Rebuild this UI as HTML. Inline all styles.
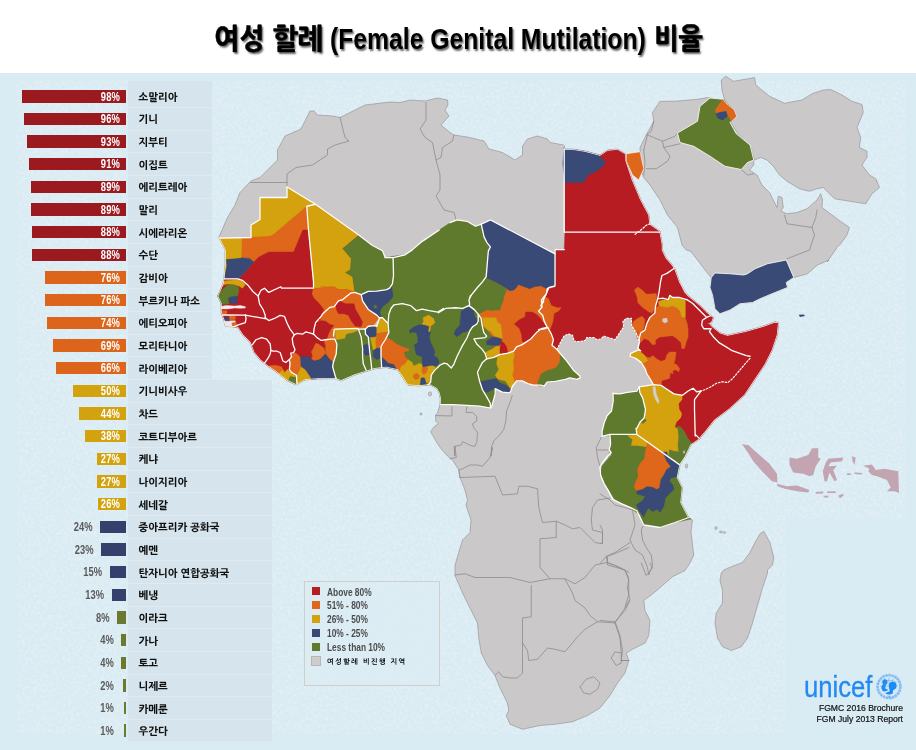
<!DOCTYPE html>
<html lang="ko"><head><meta charset="utf-8"><title>여성 할례 (Female Genital Mutilation) 비율</title>
<style>
*{margin:0;padding:0;box-sizing:border-box}
html,body{width:916px;height:750px;overflow:hidden;background:#fff}
body{position:relative;font-family:"Liberation Sans","NanumGothic","Noto Sans CJK KR",sans-serif}
#stage{position:absolute;left:0;top:0;width:916px;height:750px;overflow:hidden;background:#fff}
#sea{position:absolute;left:0;top:73px;width:916px;height:677px;background:#d9ebf3}
#map{position:absolute;left:0;top:0;width:916px;height:750px}
h1{position:absolute;left:0;top:17px;width:916px;height:44px;font-family:"Liberation Sans","NanumGothic","Noto Sans CJK KR",sans-serif;font-weight:800;font-size:28.5px;line-height:44px;color:#000;white-space:nowrap;text-shadow:1.5px 1.5px 2px rgba(0,0,0,.6)}
h1 span{position:absolute;top:0;display:block;transform-origin:0 50%}
h1 .k1{left:214px;transform:scaleX(.95);-webkit-text-stroke:.45px #000}
h1 .la{left:329.5px;transform:scaleX(.852);font-size:29px}
h1 .k2{left:654px;transform:scaleX(.91);-webkit-text-stroke:.45px #000}
.panel{position:absolute;left:128px;top:81px;width:84px;height:660px;background:#d6e5ed}
.panel2{position:absolute;left:212px;top:379px;width:60px;height:362px;background:#d6e5ed}
.bar{position:absolute;height:12.5px}
.pct{position:absolute;height:16px;line-height:16px;font-size:12px;font-weight:bold;white-space:nowrap;transform:scaleX(.78)}
.pct.in{left:60px;width:60px;text-align:right;color:#fff;transform-origin:100% 50%;letter-spacing:.2px}
.pct.out{left:0;text-align:right;color:#5a5a5a;transform-origin:100% 50%}
.lab{position:absolute;left:138.5px;height:16px;line-height:16px;font-family:"Liberation Sans","NanumGothic","Noto Sans CJK KR",sans-serif;font-weight:800;font-size:10.4px;color:#111;white-space:nowrap;margin-top:1.3px}
.sep{position:absolute;left:128px;width:144px;height:1px;background:rgba(255,255,255,.22)}
.legend{position:absolute;left:304px;top:581px;width:135.5px;height:105px;border:1px solid #cfcfcb;background:rgba(220,236,244,.7)}
.sw{position:absolute;left:7px;width:8.2px;height:8.3px;margin-top:-.9px}
.lt{position:absolute;left:22px;height:13px;line-height:13px;font-size:10.2px;font-weight:bold;color:#4c4c4c;white-space:nowrap;transform:scaleX(.82);transform-origin:0 50%;margin-top:-.3px}
.lk{position:absolute;left:22px;height:10px;line-height:10px;font-family:"Liberation Sans","NanumGothic","Noto Sans CJK KR",sans-serif;font-size:7px;font-weight:bold;color:#000;white-space:nowrap;letter-spacing:1.5px}
.unicef{position:absolute;left:804.3px;top:671px;height:32px;line-height:32px;font-size:29px;color:#2489f3;white-space:nowrap;transform:scaleX(.885);transform-origin:0 50%;-webkit-text-stroke:.3px #2489f3}
.src{position:absolute;right:13px;width:200px;text-align:right;font-size:8.6px;line-height:11px;color:#111;white-space:nowrap;-webkit-text-stroke:.2px #111}
</style></head>
<body><div id="stage">
<div id="sea"></div>
<svg id="tex" style="position:absolute;left:17px;top:81px" width="889" height="653" viewBox="0 0 889 653">
<filter id="paper" x="0" y="0" width="100%" height="100%"><feTurbulence type="fractalNoise" baseFrequency="0.35" numOctaves="3" seed="7" result="n"/><feColorMatrix in="n" type="matrix" values="0 0 0 0 1  0 0 0 0 1  0 0 0 0 1  1.6 0 0 0 -0.62"/></filter>
<filter id="paper2" x="0" y="0" width="100%" height="100%"><feTurbulence type="fractalNoise" baseFrequency="0.5" numOctaves="2" seed="23" result="n"/><feColorMatrix in="n" type="matrix" values="0 0 0 0 0.72  0 0 0 0 0.8  0 0 0 0 0.85  0 1.5 0 0 -0.62"/></filter>
<rect width="889" height="653" fill="#fff" filter="url(#paper)" opacity=".45"/>
<rect width="889" height="653" fill="#fff" filter="url(#paper2)" opacity=".4"/>
</svg>
<div style="position:absolute;left:786px;top:519px;width:120px;height:215px;background:#d9ebf3"></div>
<div class="panel"></div><div class="panel2"></div>
<svg id="map" viewBox="0 0 916 750" width="916" height="750">
<defs><clipPath id="af"><polygon points="310,111 314,111 317.5,115 332.5,116 340,117.5 350,112.5 365,105 390,102 400,102.5 410,100 425,101 437.5,98 447.5,100 448,105 445,110 449,116 441,125 450,132.5 454,135 467.5,137 484,141 489,149 502.5,152.5 515,160 522.5,155 522.5,146 527.5,139 537.5,136 547.5,139 550,142.5 564,145 565,149 572.5,149 585,151 600,155 607.5,150 617.5,149 626,154 626.25,161 632.5,180 641,200 649,215 650,224 660,231 662.5,245 662.5,250 666,257.5 672.5,265 675,268.75 680,282.5 687.5,295 700,305 707.5,312.5 713.75,317.5 711,325 713.75,327.5 720,332.5 727.5,335 745,331.25 762.5,326.25 775,321.75 778.75,322.5 777.5,335 772.5,350 765,365 755,380 745,395 730,408.75 715,420 705,432.5 701,437 700,438.75 691,445 685,457.5 680,465 677.5,477.5 682.5,487.5 681,502.5 688.75,517.5 692.5,520 691,532.5 693.75,555 690,563 685,570.5 672.5,576.75 662.5,585.5 653.75,593 643.75,600.5 645,610.5 650,620.5 648.75,635.5 645,643 632.5,649.25 626.25,653 628.75,660.5 625,673 617.5,683 610,695.5 600,708 587.5,715.5 572.5,721.75 555,724.25 540,725.5 522.5,729.25 510,724.25 506.25,715.5 508.75,710.5 507.5,703 500,688 495,675.5 487.5,665.5 481.25,653 478.75,638 477.5,623 470,608 462.5,593 455,575.5 455,565 458.75,552.5 462.5,540 470,532.5 471,520 466,505 467.5,500 465,490 460,477.5 458.75,470 452.5,460 447.5,456 442.7,450.8 438.4,445.1 434.2,438 430.6,431.6 434.2,426.6 438.4,423.8 435.6,421 435.6,415.3 437.7,412.4 439.9,404.6 440.3,399 439,393 436.5,388.5 430,385 417.5,386 407.5,385 402.5,377.5 397.5,370 386,367.5 375,368.75 365,372 355,375 341,381 335,378.75 317.5,379 305,380 296,385 287.5,381 280,375 275,371 267.5,366 260,360 253.75,352.5 250,342.5 242.5,335 237.5,327.5 225,326 223.75,320 221,312.5 221,303.75 217.5,296 222.5,285 223.75,278.75 225,265 225,250 218.75,237.5 227.5,217.5 235,205 240,192.5 251,181 260,177.5 277.5,160 277.5,150 285,136 301,129"/></clipPath></defs>
<polygon points="310,111 314,111 317.5,115 332.5,116 340,117.5 350,112.5 365,105 390,102 400,102.5 410,100 425,101 437.5,98 447.5,100 448,105 445,110 449,116 441,125 450,132.5 454,135 467.5,137 484,141 489,149 502.5,152.5 515,160 522.5,155 522.5,146 527.5,139 537.5,136 547.5,139 550,142.5 564,145 565,149 572.5,149 585,151 600,155 607.5,150 617.5,149 626,154 626.25,161 632.5,180 641,200 649,215 650,224 660,231 662.5,245 662.5,250 666,257.5 672.5,265 675,268.75 680,282.5 687.5,295 700,305 707.5,312.5 713.75,317.5 711,325 713.75,327.5 720,332.5 727.5,335 745,331.25 762.5,326.25 775,321.75 778.75,322.5 777.5,335 772.5,350 765,365 755,380 745,395 730,408.75 715,420 705,432.5 701,437 700,438.75 691,445 685,457.5 680,465 677.5,477.5 682.5,487.5 681,502.5 688.75,517.5 692.5,520 691,532.5 693.75,555 690,563 685,570.5 672.5,576.75 662.5,585.5 653.75,593 643.75,600.5 645,610.5 650,620.5 648.75,635.5 645,643 632.5,649.25 626.25,653 628.75,660.5 625,673 617.5,683 610,695.5 600,708 587.5,715.5 572.5,721.75 555,724.25 540,725.5 522.5,729.25 510,724.25 506.25,715.5 508.75,710.5 507.5,703 500,688 495,675.5 487.5,665.5 481.25,653 478.75,638 477.5,623 470,608 462.5,593 455,575.5 455,565 458.75,552.5 462.5,540 470,532.5 471,520 466,505 467.5,500 465,490 460,477.5 458.75,470 452.5,460 447.5,456 442.7,450.8 438.4,445.1 434.2,438 430.6,431.6 434.2,426.6 438.4,423.8 435.6,421 435.6,415.3 437.7,412.4 439.9,404.6 440.3,399 439,393 436.5,388.5 430,385 417.5,386 407.5,385 402.5,377.5 397.5,370 386,367.5 375,368.75 365,372 355,375 341,381 335,378.75 317.5,379 305,380 296,385 287.5,381 280,375 275,371 267.5,366 260,360 253.75,352.5 250,342.5 242.5,335 237.5,327.5 225,326 223.75,320 221,312.5 221,303.75 217.5,296 222.5,285 223.75,278.75 225,265 225,250 218.75,237.5 227.5,217.5 235,205 240,192.5 251,181 260,177.5 277.5,160 277.5,150 285,136 301,129" fill="#cbc8c9" stroke="#8f8c8d" stroke-width="0.6" stroke-linejoin="round"/>
<polyline points="466.83,406.77 466.12,412.45 472.51,412.45 476.77,416.7 476.77,420.96 472.51,423.8 473.93,428.06 477.48,432.31 476.77,442.25 474.64,446.51 469.67,445.09 466.83,443.67 462.58,441.54 461.16,445.09 454.06,446.51 454.77,456.02 455,446.25 456.25,457.5 450,458.75" fill="none" stroke="#8f8c8d" stroke-width="0.8" stroke-linejoin="round" stroke-linecap="round" />
<polyline points="512.25,395.41 509.41,403.93 506.57,411.03 505.86,420.96 503.73,429.48 499.48,435.15 493.8,440.83 491.67,446.51 490.96,456.02 492.5,447.5 490,457.5 482.5,466.25 477.5,465 470,465 462.5,468.75 458.75,470 460,477.5" fill="none" stroke="#8f8c8d" stroke-width="0.8" stroke-linejoin="round" stroke-linecap="round" />
<polyline points="460,477.5 495,476.25 502.5,495 517.5,493.75 518.75,486.25 527.5,486.25 537.5,488.75 538.75,507.5 542.5,522.5 556.25,521.25 556.25,537.5 540,538.75 540,567.5 550,578.75" fill="none" stroke="#8f8c8d" stroke-width="0.8" stroke-linejoin="round" stroke-linecap="round" />
<polyline points="455,575 465,573.75 475,577.5 510,577.5 530,582.5 550,578.75 565,578.75 575,583.75 585,577.5 595,565 607.5,562.5 607.5,556.25 617.5,552.5 629,547.5" fill="none" stroke="#8f8c8d" stroke-width="0.8" stroke-linejoin="round" stroke-linecap="round" />
<polyline points="556.25,521.25 565,525 572.5,528.75 580,527.5 587.5,535 595,542.5 602.5,543.75 602.5,532.5 592.5,530 591.25,520 592.5,507.5 597.5,500 610,498" fill="none" stroke="#8f8c8d" stroke-width="0.8" stroke-linejoin="round" stroke-linecap="round" />
<polyline points="607.5,562.5 620,567.5 629,572.5" fill="none" stroke="#8f8c8d" stroke-width="0.8" stroke-linejoin="round" stroke-linecap="round" />
<polyline points="602.5,435 610,436.25 611.25,445 608.75,455 610,463.75 600,466.25 597.5,457.5 596.25,447.5 600,440 602.5,435" fill="none" stroke="#8f8c8d" stroke-width="0.8" stroke-linejoin="round" stroke-linecap="round" />
<polyline points="597.5,450 610,450" fill="none" stroke="#8f8c8d" stroke-width="0.8" stroke-linejoin="round" stroke-linecap="round" />
<polyline points="435.61,415.57 451.93,415.99 451.93,406.77" fill="none" stroke="#8f8c8d" stroke-width="0.8" stroke-linejoin="round" stroke-linecap="round" />
<polyline points="531.25,585.5 531.25,616.75 522.5,618 522.5,673 517.5,678 510,678 502.5,676.75 498.75,671.75 495,675.5" fill="none" stroke="#8f8c8d" stroke-width="0.8" stroke-linejoin="round" stroke-linecap="round" />
<polyline points="522.5,643 527.5,650.5 528.75,660.5 537.5,659.25 547.5,648 555,649.25 565,651.75 572.5,643 577.5,636.75 585,629.25 597.5,621.75 615,623 625,608 629,600.5" fill="none" stroke="#8f8c8d" stroke-width="0.8" stroke-linejoin="round" stroke-linecap="round" />
<polyline points="565,579.25 572.5,593 575,600.5 585,608 590,615.5 597.5,621.75" fill="none" stroke="#8f8c8d" stroke-width="0.8" stroke-linejoin="round" stroke-linecap="round" />
<polyline points="615,623 620,638 621.25,653" fill="none" stroke="#8f8c8d" stroke-width="0.8" stroke-linejoin="round" stroke-linecap="round" />
<polyline points="611.25,658 615,651.75 621.25,653 621.25,663 616.25,665.5 611.25,658" fill="none" stroke="#8f8c8d" stroke-width="0.8" stroke-linejoin="round" stroke-linecap="round" />
<polyline points="580,686.75 586.25,679.25 593.75,676.75 600,683 597.5,689.25 590,694.25 583.75,693 580,686.75" fill="none" stroke="#8f8c8d" stroke-width="0.8" stroke-linejoin="round" stroke-linecap="round" />
<polyline points="621.25,660.5 629,660.5" fill="none" stroke="#8f8c8d" stroke-width="0.8" stroke-linejoin="round" stroke-linecap="round" />
<polyline points="600,493.75 610,500 615,505 625,507.5 632.5,510 635,525 630,540 635,550 642.5,555 647.5,567.5 648.75,575 652.5,565 651.25,555 646.25,547.5 642.5,540 641.25,530 643.75,525" fill="none" stroke="#8f8c8d" stroke-width="0.8" stroke-linejoin="round" stroke-linecap="round" />
<polyline points="630,542.5 615,552.5 606.25,556.25 607.5,565 625,570 628.75,580 628.75,595 625,607" fill="none" stroke="#8f8c8d" stroke-width="0.8" stroke-linejoin="round" stroke-linecap="round" />
<polyline points="606.25,556.25 600,563.75" fill="none" stroke="#8f8c8d" stroke-width="0.8" stroke-linejoin="round" stroke-linecap="round" />
<polyline points="600,525 602.5,530 602.5,542.5 600,543.75" fill="none" stroke="#8f8c8d" stroke-width="0.8" stroke-linejoin="round" stroke-linecap="round" />
<polyline points="607.5,563 615,565.5 625,570.5 628.75,578 627.5,588 630,600.5 625,610.5 615,621.75 600,620.5" fill="none" stroke="#8f8c8d" stroke-width="0.8" stroke-linejoin="round" stroke-linecap="round" />
<polyline points="615,621.75 620,635.5 622.5,650.5 621.25,660.5 628.75,660.5" fill="none" stroke="#8f8c8d" stroke-width="0.8" stroke-linejoin="round" stroke-linecap="round" />
<polyline points="641.25,563 646.25,575.5 652.5,568 650,563" fill="none" stroke="#8f8c8d" stroke-width="0.8" stroke-linejoin="round" stroke-linecap="round" />
<polyline points="340,117.5 345,137.5 349,141 335,145 327.5,149 327.5,155 312.5,165 296,167.5 287,174 287,187" fill="none" stroke="#8f8c8d" stroke-width="0.8" stroke-linejoin="round" stroke-linecap="round" />
<polyline points="251,182.5 287,182.5" fill="none" stroke="#8f8c8d" stroke-width="0.8" stroke-linejoin="round" stroke-linecap="round" />
<polyline points="426,102.5 426,120 420,129 425,137.5 432.5,142.5 436,160" fill="none" stroke="#8f8c8d" stroke-width="0.8" stroke-linejoin="round" stroke-linecap="round" />
<polyline points="454,135 452.5,141 442.5,147.5 441,157.5 436,160 440,175 440,190 436,196 444,210 454,212.5 456,219.5" fill="none" stroke="#8f8c8d" stroke-width="0.8" stroke-linejoin="round" stroke-linecap="round" />
<polyline points="643.75,150 647.5,135 653.75,137.5 662.5,141.25 675,136.25 677.5,133" fill="none" stroke="#8f8c8d" stroke-width="0.8" stroke-linejoin="round" stroke-linecap="round" />
<polyline points="662.5,141.25 663.75,147.5 680,143.75" fill="none" stroke="#8f8c8d" stroke-width="0.8" stroke-linejoin="round" stroke-linecap="round" />
<polyline points="663.75,147.5 670,156.25 667.5,161.25 656.25,168.75 646.25,168.75" fill="none" stroke="#8f8c8d" stroke-width="0.8" stroke-linejoin="round" stroke-linecap="round" />
<polyline points="646.25,135 651.25,131.25 653.75,121.25" fill="none" stroke="#8f8c8d" stroke-width="0.8" stroke-linejoin="round" stroke-linecap="round" />
<polyline points="643.75,150 645,162.5 643.75,175" fill="none" stroke="#8f8c8d" stroke-width="0.8" stroke-linejoin="round" stroke-linecap="round" />
<polyline points="741.25,169.5 747.5,175 753.75,173.75" fill="none" stroke="#8f8c8d" stroke-width="0.8" stroke-linejoin="round" stroke-linecap="round" />
<polyline points="784.5,215 787,223.75 812,227.5 815.75,217.5 817,210" fill="none" stroke="#8f8c8d" stroke-width="0.8" stroke-linejoin="round" stroke-linecap="round" />
<polyline points="812,227.5 814.5,235 809.5,250 787,258.75" fill="none" stroke="#8f8c8d" stroke-width="0.8" stroke-linejoin="round" stroke-linecap="round" />
<g clip-path="url(#af)">
<polygon points="218,238.5 251,237.5 251,225 260,219.5 260,197.5 287,197.5 287,187 315.5,204.25 306.75,206.25 308.5,230 313.5,281.8 313.5,288.2 281.54,288.19 280.83,286.77 268.77,292.45 264.51,288.19 260.96,290.32 258.12,295.99 253.16,291.74 247.48,284.64 242.51,280.38 237.55,278.96 224.06,278.96 220.52,272.58 221.93,258.38 217.68,238.52" fill="#d4a20e" stroke="#d4a20e" stroke-width="0.4" stroke-linejoin="round"/>
<polygon points="241.8,239.22 251.74,237.1 257.41,237.81 271.61,236.39 278.7,230 306.75,206.25 308.51,230 302.83,230 293.6,252 268.77,252 258.83,256.97 253.87,261.93 249.61,258.38 241.09,257.67" fill="#de671c" stroke="#de671c" stroke-width="0.4" stroke-linejoin="round"/>
<polygon points="251.25,237.5 270,236.25 282.5,230 306.25,212 306.75,206.25 310,230 287.5,250 262.5,250 242.5,250 241.25,238.75" fill="#de671c" stroke="#de671c" stroke-width="0.4" stroke-linejoin="round"/>
<polygon points="302.83,230 308.51,230 313.47,281.8 313.47,288.19 281.54,288.19 280.83,286.77 268.77,292.45 264.51,288.19 260.96,290.32 258.12,295.99 253.16,291.74 247.48,284.64 242.51,280.38 238.97,278.25 244.64,272.58 253.87,261.93 258.83,256.97 268.77,252 293.6,252" fill="#b71c23" stroke="#b71c23" stroke-width="0.4" stroke-linejoin="round"/>
<polygon points="226.19,259.09 241.09,257.67 249.61,258.38 253.87,261.93 244.64,272.58 238.97,278.25 224.06,278.96 225.48,272.58 226.9,265.48" fill="#3a4a77" stroke="#3a4a77" stroke-width="0.4" stroke-linejoin="round"/>
<polygon points="219.81,239.22 241.8,239.22 241.09,257.67 226.19,259.09 224.06,255.55 224.77,248.45 222.64,244.19" fill="#d4a20e" stroke="#d4a20e" stroke-width="0.4" stroke-linejoin="round"/>
<polygon points="306.75,206.25 315.5,204.25 358.75,235 372.5,245.5 376.77,247.74 382.45,250.58 385.28,257.67 393.09,257.67 393.52,275.41 392.38,283.93 389.54,288.19 386.7,289.61 376.77,291.03 368.25,291.31 361.16,294.57 354.77,292.45 350.51,293.16 342.71,299.54 338.45,300.96 334.19,306.64 329.93,307.35 322.84,313.73 320,317.99 321.28,316.57 317.02,320.83 314.18,326.51 313.47,335.02 313.47,334.06 311.34,333.35 305.67,331.93 302.83,334.06 297.15,333.35 294.31,334.77 290.06,329.09 287.22,323.42 284.38,316.32 280.12,315.33 274.45,318.45 268.77,320.58 265.22,317.74 265.22,315.15 263.09,309.48 259.54,303.8 258.12,295.99 260.96,290.32 264.51,288.19 268.77,292.45 280.83,286.77 281.54,288.19 313.47,288.19 313.47,281.8 308.51,230" fill="#b71c23" stroke="#b71c23" stroke-width="0.4" stroke-linejoin="round"/>
<polygon points="306.75,206.25 315.5,204.25 358.75,235 358.32,235.68 342.71,248.45 351.22,258.38 350.51,269.74 345.55,272.58 352.64,276.83 354.77,291.74 346.97,289.61 338.45,289.61 334.19,286.77 325.68,288.19 320,286.77 332.63,286.77 325.54,288.19 314.18,288.19 313.47,281.8 308.51,230" fill="#d4a20e" stroke="#d4a20e" stroke-width="0.4" stroke-linejoin="round"/>
<polygon points="358.75,235 372.5,245.5 376.77,247.74 382.45,250.58 385.28,257.67 393.09,257.67 393.52,275.41 392.38,283.93 389.54,288.19 386.7,289.61 376.77,291.03 368.25,291.31 361.16,294.57 354.77,292.45 354.77,291.74 352.64,276.83 345.55,272.58 350.51,269.74 351.22,258.38 342.71,248.45 358.32,235.68" fill="#5f792d" stroke="#5f792d" stroke-width="0.4" stroke-linejoin="round"/>
<polygon points="313.47,288.19 314.18,288.19 325.54,288.19 332.63,286.77 320,286.77 325.68,288.19 334.19,286.77 338.45,289.61 346.97,289.61 354.77,291.74 354.77,292.45 350.51,293.16 342.71,299.54 338.45,300.96 334.19,306.64 329.93,307.35 322.84,313.73 320,317.99 321.28,316.57 324.12,309.48 319.86,303.8 314.18,298.12 312.05,293.86" fill="#de671c" stroke="#de671c" stroke-width="0.4" stroke-linejoin="round"/>
<polygon points="224.06,278.96 237.55,278.96 242.51,280.38 247.48,284.64 253.16,291.74 258.12,295.99 259.54,303.8 263.09,309.48 265.22,315.15 265.22,318.7 245.35,315.15 226.19,314.87 217.68,315.15 214.84,306.64 216.26,295.28 220.52,283.93" fill="#b71c23" stroke="#b71c23" stroke-width="0.4" stroke-linejoin="round"/>
<polygon points="220.52,281.8 227.61,280.38 237.55,279.67 242.51,281.09 245.35,284.64 242.51,288.19 238.97,286.06 233.29,284.64 227.61,283.93 221.93,285.35" fill="#d4a20e" stroke="#d4a20e" stroke-width="0.4" stroke-linejoin="round"/>
<polygon points="214.84,295.28 222.64,289.61 227.61,284.64 233.29,284.64 238.26,286.77 238.97,291.03 237.55,295.99 230.45,297.41 228.32,300.96 229.74,303.8 223.35,304.51 216.26,300.96" fill="#5f792d" stroke="#5f792d" stroke-width="0.4" stroke-linejoin="round"/>
<polygon points="228.32,298.12 231.87,296.7 237.55,296.7 237.55,302.38 233.29,303.8 229.74,303.09" fill="#3a4a77" stroke="#3a4a77" stroke-width="0.4" stroke-linejoin="round"/>
<polygon points="219.1,306.64 226.19,305.5 234.71,306.07 240.38,305.5 245.35,306.64 245.35,308.06 240.38,308.34 234.71,308.06 227.61,308.91 219.1,308.91" fill="#f3f0f0" stroke="#f3f0f0" stroke-width="0.4" stroke-linejoin="round"/>
<polygon points="219.1,310.9 226.9,310.61 226.9,315.58 219.1,316" fill="#de671c" stroke="#de671c" stroke-width="0.4" stroke-linejoin="round"/>
<polygon points="220.52,316 226.19,314.87 245.35,315.15 246.06,320.83 245.35,322.96 238.26,325.8 234.71,329.34 229.03,329.34 221.93,326.51 220.52,320.83" fill="#b71c23" stroke="#b71c23" stroke-width="0.4" stroke-linejoin="round"/>
<polygon points="220.52,320.83 235.42,320.83 234.71,329.34 221.93,329.34" fill="#ece6e6" stroke="#ece6e6" stroke-width="0.4" stroke-linejoin="round"/>
<polygon points="229.03,315.15 235.42,315.15 235.42,319.41 229.03,320.12" fill="#de671c" stroke="#de671c" stroke-width="0.4" stroke-linejoin="round"/>
<polygon points="224.49,317.28 229.03,316.86 229.31,320.83 225.06,320.83" fill="#3a4a77" stroke="#3a4a77" stroke-width="0.4" stroke-linejoin="round"/>
<polygon points="231.87,322.96 236.13,322.25 236.84,326.51 232.58,327.22" fill="#de671c" stroke="#de671c" stroke-width="0.4" stroke-linejoin="round"/>
<polygon points="226.19,314.19 245.35,314.9 265.22,317.74 268.77,320.58 274.45,318.45 280.12,315.33 284.38,316.32 287.22,323.42 290.06,329.09 294.31,334.77 292.19,338.32 292.9,344 295.02,349.67 293.6,352.51 290.77,353.22 291.48,356.77 289.35,359.61 285.8,362.45 282.96,361.03 281.54,356.77 280.12,352.51 276.57,351.09 273.03,351.09 270.9,350.38 270.19,344 266.64,339.03 261.67,337.61 256,339.74 252.45,344.71 247.48,342.58 240.38,336.9 234.71,331.22 231.87,327.67 238.26,324.84 245.35,322.71 246.06,318.45" fill="#b71c23" stroke="#b71c23" stroke-width="0.4" stroke-linejoin="round"/>
<polygon points="252.45,344.71 256,339.74 261.67,337.61 266.64,339.03 270.19,344 270.9,350.38 270.19,353.93 268.06,358.19 264.51,363.16 258.83,362.45 253.16,356.77 249.61,348.25" fill="#b71c23" stroke="#b71c23" stroke-width="0.4" stroke-linejoin="round"/>
<polygon points="264.51,363.16 268.06,358.19 270.19,353.93 270.9,350.38 273.03,351.09 276.57,351.09 280.12,352.51 281.54,356.77 282.96,361.03 285.8,362.45 289.35,359.61 290.06,363.86 289.35,369.54 291.48,372.38 296.44,375.22 297.15,387.99 288.64,385.15 280.12,379.48 271.61,370.96 264.51,365.99" fill="#b71c23" stroke="#b71c23" stroke-width="0.4" stroke-linejoin="round"/>
<polygon points="268.06,366.7 270.19,365.57 275.86,365.28 281.54,366.7 282.96,369.54 278.7,373.8 276.57,375.22 268.77,369.54" fill="#de671c" stroke="#de671c" stroke-width="0.4" stroke-linejoin="round"/>
<polygon points="278.7,373.8 282.96,369.54 284.38,372.38 287.22,369.54 291.48,372.38 296.44,375.22 296.44,377.35 290.06,376.64 287.93,383.73 280.12,379.48" fill="#d4a20e" stroke="#d4a20e" stroke-width="0.4" stroke-linejoin="round"/>
<polygon points="290.06,376.64 296.44,377.35 296.87,387.99 287.22,383.73" fill="#5f792d" stroke="#5f792d" stroke-width="0.4" stroke-linejoin="round"/>
<polygon points="294.31,334.77 297.15,333.35 302.83,334.06 305.67,331.93 311.34,333.35 313.47,334.06 317.02,337.61 321.28,340.45 325.54,339.74 331.21,339.03 334.76,339.03 336.89,344 336.18,353.93 333.34,362.45 332.63,366.7 335.47,376.64 337.6,382.31 325.54,380.9 311.34,382.31 302.83,385.15 297.15,387.99 296.44,375.22 291.48,372.38 289.35,369.54 290.06,363.86 289.35,359.61 291.48,356.77 290.77,353.22 293.6,352.51 295.02,349.67 292.9,344 292.19,338.32" fill="#b71c23" stroke="#b71c23" stroke-width="0.4" stroke-linejoin="round"/>
<polygon points="311.34,351.8 313.47,348.25 315.6,343.29 318.44,344 324.12,348.25 325.54,353.93 322.7,356.77 319.86,359.61 314.18,361.03 311.34,358.9 312.76,356.06" fill="#de671c" stroke="#de671c" stroke-width="0.4" stroke-linejoin="round"/>
<polygon points="324.12,341.16 325.54,339.74 331.21,339.03 334.76,339.03 336.89,344 336.18,353.93 333.34,362.45 329.79,359.61 326.96,356.06 325.54,353.93 325.54,345.41" fill="#de671c" stroke="#de671c" stroke-width="0.4" stroke-linejoin="round"/>
<polygon points="299.99,356.77 308.51,356.77 311.34,358.9 314.18,361.03 319.86,359.61 322.7,356.77 325.54,353.93 326.96,356.06 329.79,359.61 333.34,362.45 332.63,366.7 335.47,379.48 325.54,380.9 312.05,381.6 309.93,376.64 307.09,372.38 304.96,369.54 300.7,366.7" fill="#3a4a77" stroke="#3a4a77" stroke-width="0.4" stroke-linejoin="round"/>
<polygon points="291.48,356.77 293.6,352.51 297.15,353.93 299.99,356.77 300.7,366.7 299.99,369.54 297.86,373.8 296.44,375.22 291.48,372.38 289.35,369.54 290.06,363.86 289.35,359.61" fill="#de671c" stroke="#de671c" stroke-width="0.4" stroke-linejoin="round"/>
<polygon points="296.44,375.22 297.86,373.8 299.99,369.54 300.7,366.7 304.96,369.54 307.09,372.38 309.93,376.64 312.05,381.6 302.83,385.15 297.15,387.99" fill="#d4a20e" stroke="#d4a20e" stroke-width="0.4" stroke-linejoin="round"/>
<polygon points="320,317.99 322.84,313.73 329.93,307.35 334.19,306.64 338.45,300.96 342.71,299.54 350.51,293.16 354.77,292.45 361.16,294.57 362.58,300.96 368.25,309.48 376.77,315.15 379.61,317.99 376.77,320.83 373.93,325.09 366.83,327.93 358.32,328.64 334.19,329.34 334.76,339.03 331.21,339.03 325.54,339.74 321.28,340.45 317.02,337.61 313.47,334.06 314.18,328.38 315.6,322.71 317.02,320.83 321.28,316.57" fill="#de671c" stroke="#de671c" stroke-width="0.4" stroke-linejoin="round"/>
<polygon points="335.61,303.8 339.87,300.96 345.55,303.8 354.06,303.8 355.48,309.48 359.74,316.57 362.58,322.25 361.16,326.51 355.48,326.51 351.22,320.83 348.38,315.15 344.13,313.73 338.45,313.73 336.32,309.48" fill="#b71c23" stroke="#b71c23" stroke-width="0.4" stroke-linejoin="round"/>
<polygon points="313.47,334.06 314.18,328.38 315.6,322.71 321.28,320.58 325.54,321.29 329.79,324.13 334.05,325.55 331.21,328.38 328.38,334.06 326.96,338.32 321.28,340.45 317.02,337.61" fill="#b71c23" stroke="#b71c23" stroke-width="0.4" stroke-linejoin="round"/>
<polygon points="317.87,309.48 320,313.73 321.42,317.99 319.29,320.83 316.45,315.15" fill="#b71c23" stroke="#b71c23" stroke-width="0.4" stroke-linejoin="round"/>
<polygon points="334.9,329.09 356.9,328.38 358.32,329.09 361.16,336.9 361.87,342.58 362.58,348.25 362.58,356.77 363.29,363.86 366.12,369.54 366.83,372.38 356.9,378.06 348.38,381.6 341.29,383.73 335.61,380.9 332.77,366.7 333.48,362.45 336.32,353.93 337.03,346.83 335.61,338.32" fill="#5f792d" stroke="#5f792d" stroke-width="0.4" stroke-linejoin="round"/>
<polygon points="334.9,329.09 356.9,328.38 357.61,330.51 352.64,332.64 348.38,333.35 345.55,334.77 344.84,338.32 336.32,339.74" fill="#d4a20e" stroke="#d4a20e" stroke-width="0.4" stroke-linejoin="round"/>
<polygon points="358.32,329.09 364,329.09 365.41,334.06 368.25,336.9 368.96,344 369.67,351.09 370.38,356.77 371.09,362.45 371.8,370.96 366.83,371.67 363.29,363.86 362.58,356.77 362.58,348.25 361.87,342.58 361.16,336.9" fill="#5f792d" stroke="#5f792d" stroke-width="0.4" stroke-linejoin="round"/>
<polygon points="363.29,345.41 366.83,344 369.67,346.83 370.38,354.64 365.41,355.35 363.29,352.51" fill="#3a4a77" stroke="#3a4a77" stroke-width="0.4" stroke-linejoin="round"/>
<polygon points="365.41,329.09 368.25,326.26 374.64,325.55 376.77,326.26 379.61,317.74 382.45,317.74 388.12,323.42 388.83,332.64 385.28,339.74 382.45,344 381.03,346.83 381.03,356.77 381.74,369.54 371.8,370.96 371.09,362.45 370.38,356.77 369.67,351.09 368.96,344 368.25,336.9 365.41,334.06" fill="#5f792d" stroke="#5f792d" stroke-width="0.4" stroke-linejoin="round"/>
<polygon points="365.41,329.8 368.25,326.26 374.64,325.55 376.77,328.38 376.77,335.48 372.51,337.61 368.25,336.9 365.41,334.06" fill="#3a4a77" stroke="#3a4a77" stroke-width="0.4" stroke-linejoin="round"/>
<polygon points="376.77,326.26 379.61,317.74 382.45,317.74 388.12,323.42 388.83,331.93 376.77,333.35" fill="#d4a20e" stroke="#d4a20e" stroke-width="0.4" stroke-linejoin="round"/>
<polygon points="376.77,333.35 388.83,331.93 385.28,339.74 382.45,344 381.03,348.25 376.06,348.25 375.35,341.16 376.06,336.9" fill="#de671c" stroke="#de671c" stroke-width="0.4" stroke-linejoin="round"/>
<polygon points="370.38,337.61 376.06,337.18 375.35,341.16 376.06,348.25 376.77,350.38 373.22,350.38 371.8,344" fill="#d4a20e" stroke="#d4a20e" stroke-width="0.4" stroke-linejoin="round"/>
<polygon points="373.22,350.38 376.77,348.25 380.32,348.25 380.32,358.19 376.77,359.61 373.22,356.77" fill="#3a4a77" stroke="#3a4a77" stroke-width="0.4" stroke-linejoin="round"/>
<polygon points="385.28,257.67 393.09,256.26 405.15,254.84 412.25,249.87 422.18,241.35 439.21,230 450,222.7 457,219.9 467,221.3 475.5,226.3 481.2,224.1 492,245 492,290 474.64,290 470.38,295.68 468.96,299.93 469.67,304.19 468.96,305.61 462.58,308.45 455.48,307.74 445.55,308.45 438.45,312.71 432.77,311.29 427.1,309.16 420,308.45 443.47,308.52 437.79,312.06 429.28,310.64 422.18,309.22 416.51,310.64 410.83,305.68 402.31,303.55 393.8,304.97 390.96,308.52 388.83,314.19 388.12,322.71 382.45,317.74 379.61,317.74 379.61,317.99 376.77,315.15 368.25,309.48 362.58,300.96 361.16,294.57 368.25,291.31 376.77,291.03 386.7,289.61 389.54,288.19 392.38,283.93 393.52,275.41 393.09,257.67" fill="#5f792d" stroke="#5f792d" stroke-width="0.4" stroke-linejoin="round"/>
<polygon points="361.16,294.57 368.25,291.31 376.77,291.03 386.7,289.61 389.54,288.19 391.67,286.77 393.09,296.7 388.12,302.38 382.45,306.64 379.61,312.31 381.03,316.57 379.61,317.99 376.77,315.15 368.25,309.48 362.58,300.96" fill="#3a4a77" stroke="#3a4a77" stroke-width="0.4" stroke-linejoin="round"/>
<polygon points="373.93,305.22 376.77,305.22 376.77,308.06 373.93,308.06" fill="#5f792d" stroke="#5f792d" stroke-width="0.4" stroke-linejoin="round"/>
<polygon points="388.12,322.71 388.83,314.19 390.96,308.52 393.8,304.97 402.31,303.55 410.83,305.68 416.51,310.64 422.18,309.22 429.28,310.64 437.79,312.06 443.47,308.52 438.45,312.71 445.55,308.45 455.48,307.74 462.58,308.45 468.96,305.61 474.64,309.87 478.19,314.13 478.19,321.22 476.77,324.06 472.51,326.9 469.67,331.16 466.83,338.25 462.58,345.35 459.74,351.03 456.9,356.7 454.06,363.8 451.22,368.06 446.97,363.8 444.13,363.09 439.87,365.22 434.19,370.9 431.35,375.15 430.64,382.25 427.1,386.51 426.44,386.57 416.51,387.28 407.99,387.28 402.31,383.73 399.48,376.64 396.64,370.96 393.8,369.54 381.74,369.54 381.03,356.77 381.03,346.83 382.45,344 385.28,339.74 388.83,332.64" fill="#5f792d" stroke="#5f792d" stroke-width="0.4" stroke-linejoin="round"/>
<polygon points="382.45,344 386.7,337.61 390.96,339.74 396.64,344 402.31,346.83 408.7,348.96 408.7,351.09 403.73,351.8 405.15,356.77 407.99,359.61 405.15,363.86 400.9,366.7 399.48,370.96 396.64,369.54 393.8,364.57 388.12,363.16 385.28,360.32 381.74,356.77 381.03,346.83" fill="#de671c" stroke="#de671c" stroke-width="0.4" stroke-linejoin="round"/>
<polygon points="381.31,356.77 385.28,360.32 388.12,363.16 393.8,364.57 396.64,369.54 393.8,369.83 383.86,369.54 381.31,369.54" fill="#3a4a77" stroke="#3a4a77" stroke-width="0.4" stroke-linejoin="round"/>
<polygon points="400.9,366.7 405.15,363.86 407.99,359.61 412.25,362.45 413.67,365.99 419.34,363.16 422.18,364.57 422.89,368.12 427.86,365.99 432.12,365.28 435.67,367.41 433.54,373.8 431.41,379.48 429.28,385.15 426.44,386.57 416.51,387.28 407.99,387.28 403.73,383.73 400.9,376.64 399.48,370.96" fill="#d4a20e" stroke="#d4a20e" stroke-width="0.4" stroke-linejoin="round"/>
<polygon points="413.67,374.51 416.51,373.09 419.34,375.22 418.64,378.77 415.09,379.48 413.38,377.35" fill="#de671c" stroke="#de671c" stroke-width="0.4" stroke-linejoin="round"/>
<polygon points="422.18,367.41 425.73,365.99 427.86,368.12 426.44,372.38 423.6,374.51 421.9,371.67" fill="#de671c" stroke="#de671c" stroke-width="0.4" stroke-linejoin="round"/>
<polygon points="421.05,378.06 424.31,377.77 426.72,384.87 420.2,385.15" fill="#3a4a77" stroke="#3a4a77" stroke-width="0.4" stroke-linejoin="round"/>
<polygon points="409.41,330.51 413.67,326.97 419.34,324.84 429.28,325.55 430.7,331.93 429.28,336.9 430.7,342.58 433.54,348.25 434.96,352.51 433.54,355.35 437.79,358.19 439.21,362.45 436.38,365.99 432.12,365.28 427.86,365.99 422.89,366.7 422.18,361.03 422.18,356.77 416.51,354.64 415.09,349.67 414.38,344.71 417.93,342.58 417.93,338.32 416.51,332.64 412.25,331.93 410.12,333.35" fill="#3a4a77" stroke="#3a4a77" stroke-width="0.4" stroke-linejoin="round"/>
<polygon points="422.89,317.74 428.57,314.9 433.54,318.45 434.96,322.71 430.7,326.26 429.99,331.93 428.57,331.22 429.28,326.26 425.02,324.84 422.18,324.13 423.6,321.29" fill="#d4a20e" stroke="#d4a20e" stroke-width="0.4" stroke-linejoin="round"/>
<polygon points="461.16,311.29 468.96,306.32 473.93,311.29 474.64,316.97 478.19,319.8 476.77,324.06 471.09,326.9 468.25,331.16 462.58,332.58 456.9,336.83 454.06,334 455.48,329.74 459.74,325.48 460.45,318.38" fill="#3a4a77" stroke="#3a4a77" stroke-width="0.4" stroke-linejoin="round"/>
<polygon points="564.19,146.35 663.54,146.35 663.54,232.22 564.9,232.22" fill="#b71c23" stroke="#b71c23" stroke-width="0.4" stroke-linejoin="round"/>
<polygon points="564.19,146.35 598.96,146.35 598.96,155.58 606.06,162.67 601.09,167.64 595.41,171.9 588.32,174.74 583.35,182.54 564.9,182.54 562.77,163.38" fill="#3a4a77" stroke="#3a4a77" stroke-width="0.4" stroke-linejoin="round"/>
<polygon points="564.9,232.22 663.54,232.22 666.9,245 674,268.42 666.9,273.38 661.93,275.51 660.51,281.9 659.09,291.83 657.67,298.93 655.55,306.03 654.84,313.12 649.87,317.38 647.03,323.06 644.9,330.15 640.64,332.99 639.22,338.67 639.28,342.45 637.86,336.77 635.02,331.09 631.47,325.41 631.47,318.32 626.51,318.32 622.96,321.16 623.67,326.83 620.83,331.09 617.99,335.35 615.15,339.61 608.06,337.48 603.8,336.06 600.96,338.9 596.7,339.61 593.86,337.48 586.77,337.48 585.35,340.32 579.67,341.74 574,341.03 572.58,335.35 568.32,333.93 564.06,336.06 560.51,342.45 556.97,349.54 552,345.28 553.42,339.61 551.29,333.93 547.74,327.54 546.32,325.41 543.48,321.16 542.06,314.77 538.52,311.93 541.35,306.97 540.64,301.29 544.19,297.03 547.03,289.22 555.55,287.1 555.02,285.86 555.02,249.67 564.25,249.67" fill="#b71c23" stroke="#b71c23" stroke-width="0.4" stroke-linejoin="round"/>
<polygon points="545.61,297.03 548.45,298.45 551.29,305.55 556.97,307.67 561.22,307.67 558.38,311.22 554.13,313.35 552.71,322.58 549.87,329.67 547.74,327.54 546.32,325.41 543.48,321.16 542.06,314.77 538.52,311.93 541.35,306.97 540.64,301.29" fill="#de671c" stroke="#de671c" stroke-width="0.4" stroke-linejoin="round"/>
<polygon points="631.47,325.41 633.6,321.16 637.86,318.32 642.12,316.19 644.96,319.74 644.25,326.83 642.12,332.51 639.28,336.77 637.86,336.77 635.02,331.09" fill="#de671c" stroke="#de671c" stroke-width="0.4" stroke-linejoin="round"/>
<polygon points="634.31,289.93 637.86,287.1 642.12,289.93 646.38,294.19 656.31,293.48 657.02,301.29 654.89,308.38 652.05,313.35 647.79,311.22 642.12,306.97 637.86,302.71 637.15,297.03" fill="#de671c" stroke="#de671c" stroke-width="0.4" stroke-linejoin="round"/>
<polygon points="481.22,224.13 490.45,219.87 555.02,253.93 555.02,285.86 549.34,287.28 547.22,288.7 546.51,293.67 542.96,297.93 543.67,301.47 540.83,306.02 548.45,288.52 545.61,295.61 541.35,299.87 542.06,306.97 538.52,311.22 542.77,315.48 544.19,321.16 547.03,326.83 544.19,328.96 538.52,329.67 534.26,335.35 530,340.32 542.05,328.32 536.38,332.58 530.7,338.96 522.18,344.64 516.51,346.77 513.67,351.03 507.99,353.16 499.48,354.57 493.8,357.41 486.7,358.83 485.28,353.86 482.45,349.61 476.77,343.93 473.93,338.96 485.28,337.54 486.7,336.12 483.86,332.58 482.45,326.9 481.03,318.38 478.19,314.13 474.64,309.87 468.96,305.61 469.67,304.19 468.96,299.93 470.38,295.68 474.64,290 469.16,299.34 471.29,295.09 476.97,287.99 482.64,281.6 486.19,276.64 488.32,251.09 490.45,246.83 486.9,242.58 484.06,236.9" fill="#de671c" stroke="#de671c" stroke-width="0.4" stroke-linejoin="round"/>
<polygon points="481.93,224.13 490.45,219.87 555.02,253.93 555.02,285.86 549.34,286.57 546.51,288.7 540.83,285.86 535.15,286.57 529.48,288.7 523.8,286.57 518.12,284.44 516.7,287.28 513.86,290.12 509.61,290.83 506.77,288.7 496.83,283.02 486.19,278.06 488.32,251.09 490.45,246.83 486.9,242.58 484.06,236.9" fill="#3a4a77" stroke="#3a4a77" stroke-width="0.4" stroke-linejoin="round"/>
<polygon points="486.19,278.06 496.83,283.02 506.77,288.7 503.93,296.51 501.09,306.02 503.73,298.52 500.9,305.61 500.19,309.87 492.38,310.58 486.7,309.87 481.03,312.71 478.19,314.13 474.64,309.87 468.96,305.61 469.67,304.19 468.96,299.93 470.38,295.68 474.64,290 469.16,299.34 471.29,295.09 476.97,287.99 482.64,281.6" fill="#5f792d" stroke="#5f792d" stroke-width="0.4" stroke-linejoin="round"/>
<polygon points="514.38,324.06 519.34,319.8 525.02,316.97 525.73,312 532.12,312 536.38,314.13 540.63,318.38 543.47,322.64 546.31,326.9 542.05,328.32 536.38,332.58 530.7,338.96 525.73,343.93 522.18,341.09 521.47,334 519.34,328.32" fill="#b71c23" stroke="#b71c23" stroke-width="0.4" stroke-linejoin="round"/>
<polygon points="482.45,317.67 495.93,317.67 497.35,321.93 500.9,324.77 501.6,332.58 502.31,338.25 499.48,337.54 493.8,335.41 490.96,331.16 486.7,329.74 483.86,326.9" fill="#d4a20e" stroke="#d4a20e" stroke-width="0.4" stroke-linejoin="round"/>
<polygon points="483.86,332.58 486.7,336.12 485.28,337.54 473.93,338.96 476.77,343.93 482.45,349.61 485.28,352.45 489.54,350.32 493.8,348.19 493.8,346.06 486.7,344.64 486.7,341.09 492.38,336.83 486.7,329.74 483.86,326.9 482.45,326.9" fill="#5f792d" stroke="#5f792d" stroke-width="0.4" stroke-linejoin="round"/>
<polygon points="486.7,341.09 492.38,336.83 499.48,338.25 502.31,339.67 500.19,344.64 496.64,346.06 490.96,345.35 486.7,344.64" fill="#3a4a77" stroke="#3a4a77" stroke-width="0.4" stroke-linejoin="round"/>
<polygon points="500.19,341.8 503.73,342.51 506.57,346.77 507.99,353.16 503.73,353.86 500.19,354.57 499.48,349.61 500.9,345.35" fill="#b71c23" stroke="#b71c23" stroke-width="0.4" stroke-linejoin="round"/>
<polygon points="485.28,352.45 489.54,350.32 493.8,348.19 496.64,346.06 499.48,346.77 499.48,354.57 493.8,357.41 487.41,358.83" fill="#d4a20e" stroke="#d4a20e" stroke-width="0.4" stroke-linejoin="round"/>
<polygon points="468.96,305.61 474.64,309.87 478.19,314.13 481.03,318.38 482.45,326.9 483.86,332.58 486.7,336.12 485.28,337.54 473.93,338.96 476.77,343.93 482.45,349.61 485.28,353.86 486.7,358.83 482.45,362.38 479.61,368.06 477.48,372.31 479.61,381.22 482.45,389.74 486.7,396.83 490.25,403.22 490.25,408.19 479.61,406.06 466.83,405.35 452.64,404.64 439.87,404.64 434.19,404.64 428.52,392.58 427.1,387.93 425.68,383.67 430.64,382.25 431.35,375.15 434.19,370.9 439.87,365.22 444.13,363.09 446.97,363.8 451.22,368.06 454.06,363.8 456.9,356.7 459.74,351.03 462.58,345.35 466.83,338.25 469.67,331.16 472.51,326.9 476.77,324.06 478.19,321.22 478.19,314.13" fill="#5f792d" stroke="#5f792d" stroke-width="0.4" stroke-linejoin="round"/>
<polygon points="486.7,358.83 493.8,357.41 499.48,354.57 507.99,353.16 513.67,351.03 516.51,346.77 522.18,344.64 530.7,338.96 536.38,332.58 542.05,328.32 546.31,327.61 538.52,329.67 544.19,328.96 547.74,327.54 551.29,333.93 553.42,339.61 552,345.28 556.97,349.54 560.51,353.8 565.48,359.48 569.74,365.15 574,370.83 579.67,375.8 580.38,377.93 576.83,379.34 569.74,377.93 565.48,379.34 555.55,381.47 547.03,382.18 544.19,386.02 540.63,385.09 533.54,385.09 527.86,383.67 522.18,380.83 516.51,380.83 512.25,386.51 510.83,391.16 509.41,392.86 502.31,392.15 495.22,388.6 495.22,394 491.67,406.77 490.25,403.22 486.7,396.83 482.45,389.74 479.61,381.22 477.48,372.31 479.61,368.06 482.45,362.38" fill="#de671c" stroke="#de671c" stroke-width="0.4" stroke-linejoin="round"/>
<polygon points="486.7,358.83 493.8,357.41 497.35,358.12 496.64,363.8 498.77,369.48 495.22,375.15 497.35,378.7 490.96,380.83 481.03,382.25 478.9,377.99 477.48,372.31 479.61,368.06 482.45,362.38" fill="#5f792d" stroke="#5f792d" stroke-width="0.4" stroke-linejoin="round"/>
<polygon points="497.35,358.12 499.48,354.57 507.99,353.16 513.67,351.03 514.38,355.28 512.96,360.96 513.67,369.48 512.25,375.15 514.38,380.83 512.25,386.51 509.41,387.93 506.57,383.67 499.48,379.41 497.35,378.7 495.22,375.15 498.77,369.48 496.64,363.8" fill="#d4a20e" stroke="#d4a20e" stroke-width="0.4" stroke-linejoin="round"/>
<polygon points="479.61,381.22 482.45,389.74 486.7,396.83 490.25,403.22 491.67,406.77 495.22,394 495.22,388.32 502.31,391.87 509.41,392.58 510.83,389.74 505.15,381.22 490.96,378.38" fill="#5f792d" stroke="#5f792d" stroke-width="0.4" stroke-linejoin="round"/>
<polygon points="481.03,381.51 496.64,378.38 499.48,382.64 506.57,385.48 510.83,389.74 509.41,392.58 502.31,391.87 495.22,388.32 486.7,392.58 482.45,389.74" fill="#3a4a77" stroke="#3a4a77" stroke-width="0.4" stroke-linejoin="round"/>
<polygon points="560.51,353.8 565.48,359.48 569.74,365.15 574,370.83 579.67,375.8 580.38,377.93 576.83,379.34 569.74,377.93 565.48,379.34 555.55,381.47 547.03,382.18 544.19,386.02 538.52,386.02 537.81,382.18 541.35,373.67 547.03,370.83 555.55,367.99 559.8,362.31" fill="#5f792d" stroke="#5f792d" stroke-width="0.4" stroke-linejoin="round"/>
<polygon points="676.83,266.29 679.67,281.9 682.51,289 684.64,293.25 689.61,296.09 693.86,298.93 699.54,304.61 705.22,310.28 711.6,315.96 706.64,317.38 704.51,315.25 700.96,311.7 696.7,307.45 692.45,303.19 686.77,299.64 679.67,297.51 672.58,297.51 669.74,295.38 668.32,299.64 662.64,298.22 657.67,298.93 659.09,291.83 660.51,281.9 661.93,275.51 666.9,273.38 674,268.42" fill="#b71c23" stroke="#b71c23" stroke-width="0.4" stroke-linejoin="round"/>
<polygon points="706.64,317.38 711.6,315.25 715.15,318.09 711.6,321.64 707.35,323.77 712.31,325.19 710.9,328.73 703.8,328.73 701.67,325.19 702.38,320.22" fill="#b71c23" stroke="#b71c23" stroke-width="0.4" stroke-linejoin="round"/>
<polygon points="657.67,298.93 662.64,298.22 668.32,299.64 669.74,295.38 672.58,297.51 679.67,297.51 686.77,299.64 692.45,303.19 696.7,307.45 700.96,311.7 704.51,315.25 706.64,317.38 702.38,320.22 701.67,325.19 703.8,328.73 710.9,328.73 709.48,331.57 713.73,337.25 719.41,342.93 726.51,347.18 732.18,350.73 737.79,352.71 746.31,355.55 750,356.26 750,358.38 744.89,364.06 737.79,372.58 732.12,378.96 727.86,382.51 722.18,381.8 716.51,383.22 710.83,386.77 705.15,389.61 700.9,391.03 696.64,391.74 693.09,388.19 688.12,391.03 682.45,395.28 673.93,393.86 665.41,388.19 661.16,385.35 653.35,384.64 650.51,379.67 646.97,374 644.84,368.32 641.29,362.64 635.61,358.38 629.93,356.26 630.64,353.42 638.45,349.87 639.87,342.77 637.03,337.1 638.45,330 639.22,338.67 640.64,332.99 644.9,330.15 647.03,323.06 649.87,317.38 654.84,313.12 655.55,306.03" fill="#b71c23" stroke="#b71c23" stroke-width="0.4" stroke-linejoin="round"/>
<polygon points="655.55,307.45 659.09,306.03 662.64,306.74 666.9,307.45 672.58,306.03 677.54,308.16 680.38,311.7 681.8,317.38 685.35,318.09 687.48,324.48 688.19,330.15 688.12,330 688.12,337.1 685.99,342.77 684.57,348.45 681.74,348.45 681.03,342.77 676.77,338.52 672.51,335.68 665.41,336.39 659.74,337.1 655.48,339.93 655.48,344.19 652.64,344.9 648.38,339.93 644.13,338.52 640.58,342.77 637.03,337.1 638.45,330 639.22,338.67 640.64,332.99 644.9,330.15 647.03,323.06 649.87,317.38 654.84,313.12" fill="#de671c" stroke="#de671c" stroke-width="0.4" stroke-linejoin="round"/>
<polygon points="658.38,301.77 662.64,299.64 668.32,300.35 669.74,296.09 672.58,298.22 679.67,298.22 685.35,300.35 685.35,317.38 681.8,317.38 680.38,311.7 677.54,308.16 672.58,306.03 666.9,307.45 662.64,306.74 659.09,306.03" fill="#d4a20e" stroke="#d4a20e" stroke-width="0.4" stroke-linejoin="round"/>
<polygon points="662.64,318.8 666.9,318.09 667.61,321.64 664.77,323.06 662.64,321.64" fill="#d2cfd0" stroke="#d2cfd0" stroke-width="0.4" stroke-linejoin="round"/>
<polygon points="630.64,353.42 638.45,350.58 642.71,353.42 646.26,356.97 648.38,360.51 644.84,363.35 641.29,362.64 635.61,358.38 629.93,356.26" fill="#d4a20e" stroke="#d4a20e" stroke-width="0.4" stroke-linejoin="round"/>
<polygon points="646.26,356.97 649.8,357.67 652.64,355.55 656.9,359.09 661.16,361.22 665.41,359.8 666.83,354.84 669.67,352 676.06,352 675.35,358.38 673.93,363.35 676.77,364.77 679.61,368.32 678.9,371.87 675.35,369.74 672.51,371.16 673.22,374 670.38,372.58 669.67,378.25 665.41,379.67 661.87,380.38 661.16,384.64 653.35,384.64 650.51,379.67 646.97,374 644.84,368.32 641.29,362.64 644.84,363.35 648.38,360.51" fill="#de671c" stroke="#de671c" stroke-width="0.4" stroke-linejoin="round"/>
<polygon points="710.9,328.73 712.31,325.9 715.15,328.73 720.83,332.99 727.93,334.41 735.02,332.28 743.54,330.15 750.63,329.44 760,327.31 790,310 790,360 720,440 703.73,437.86 695.22,437.86 694.51,409.48 694.51,399.54 700.9,391.03 705.15,389.61 710.83,386.77 716.51,383.22 722.18,381.8 727.86,382.51 732.12,378.96 737.79,372.58 744.89,364.06 750,358.38 750,356.26 746.31,355.55 737.79,352.71 725.02,347.03 716.51,341.35 710.83,334.26 709.41,330 726.51,347.18 719.41,342.93 713.73,337.25 709.48,331.57" fill="#b71c23" stroke="#b71c23" stroke-width="0.4" stroke-linejoin="round"/>
<polygon points="653.35,384.64 661.16,385.35 665.41,388.19 673.93,393.86 682.45,395.28 688.12,391.03 693.09,388.19 696.64,391.74 700.9,391.03 694.51,399.54 694.51,409.48 695.22,436.02 695.02,434.13 699.28,438.38 703.54,438.38 691.47,446.9 687.93,451.16 683.67,458.25 679.41,464.64 636.83,434.41 636.12,428.45 637.54,422.77 641.09,415.68 644.64,410 637.03,427.93 639.87,422.25 644.13,417.99 645.55,409.48 642.71,398.12 639.87,392.45 639.16,386.77" fill="#d4a20e" stroke="#d4a20e" stroke-width="0.4" stroke-linejoin="round"/>
<polygon points="682.45,395.28 688.12,391.03 693.09,388.19 696.64,391.74 700.9,391.03 694.51,399.54 694.51,409.48 695.22,436.02 695.02,434.13 699.28,438.38 703.54,438.38 691.47,444.06 687.93,438.38 683.67,430.58 680.12,426.32 675.15,427.03 676.57,422.77 682.25,417.1 682.25,410 682.45,429.34 676.77,426.51 676.77,422.25 681.03,417.99 682.45,413.73 679.61,409.48 678.9,403.8 682.45,399.54" fill="#b71c23" stroke="#b71c23" stroke-width="0.4" stroke-linejoin="round"/>
<polygon points="675.15,427.03 680.12,426.32 683.67,430.58 687.93,438.38 691.47,442.64 692.18,446.9 687.93,451.16 683.67,458.25 679.41,464.64 668.77,456.83 669.48,449.74 673.73,451.16 678.7,451.87 677.99,445.48 678.7,436.97 677.99,428.45" fill="#5f792d" stroke="#5f792d" stroke-width="0.4" stroke-linejoin="round"/>
<polygon points="652.93,386.77 655.48,386.77 656.19,393.86 659.03,400.96 658.32,403.8 655.48,399.54 653.35,393.86" fill="#d2cfd0" stroke="#d2cfd0" stroke-width="0.4" stroke-linejoin="round"/>
<polygon points="639.87,419.41 644.84,417.99 646.26,420.83 642.71,423.67" fill="#5f792d" stroke="#5f792d" stroke-width="0.4" stroke-linejoin="round"/>
<polygon points="613,393.5 620,393.86 627.1,392.45 637.03,391.03 639.16,386.77 639.87,392.45 642.71,398.12 645.55,409.48 644.13,417.99 639.87,422.25 637.03,427.93 636.12,428.45 636.83,434.41 609.87,434.41 602.06,436.26 602.06,431.29 604.19,422.77 607.03,415.68 611.5,411 613.2,401" fill="#5f792d" stroke="#5f792d" stroke-width="0.4" stroke-linejoin="round"/>
<polygon points="609.87,434.41 636.83,434.41 679.41,464.64 683.67,466.77 680.83,472.45 682.25,478.12 683.67,483.8 685.09,490.9 683.67,497.99 685.09,509.34 692.5,518.75 675,522.5 660,527.5 643.75,525 640,515 630,507.5 615,500 605,485 600,472.5 602.5,465 611.25,455 610,445 611.29,452.58 609.16,449.74 610.58,444.06" fill="#5f792d" stroke="#5f792d" stroke-width="0.4" stroke-linejoin="round"/>
<polygon points="627.61,435.55 636.83,434.84 647.48,442.64 647.48,446.9 642.51,446.19 636.83,445.48 631.16,445.48 632.58,439.8" fill="#d4a20e" stroke="#d4a20e" stroke-width="0.4" stroke-linejoin="round"/>
<polygon points="647.48,443.35 656.7,449.03 663.8,454 666.64,461.09 670.9,466.77 666.64,469.61 663.8,475.28 660.96,479.54 659.54,488.06 656.7,489.48 652.45,487.35 646.77,486.64 642.51,489.48 636.83,490.9 634,487.35 635.41,482.38 638.25,476.7 637.54,469.61 639.67,463.93 644.64,458.25 645.35,451.16" fill="#de671c" stroke="#de671c" stroke-width="0.4" stroke-linejoin="round"/>
<polygon points="662.38,452.58 666.64,451.87 668.06,455.41 673.73,461.09 679.41,465.35 677.99,471.03 676.57,476.7 670.9,478.12 669.48,480.96 673.02,485.22 673.73,489.48 669.48,493.73 665.22,497.99 663.8,506.51 660.25,512.18 656.7,509.34 652.45,511.47 648.19,507.93 646.06,512.18 643.93,516.02 643.75,517.5 638.75,510 636.25,505 636.12,505.09 642.51,500.83 645.35,496.57 636.83,493.73 636.83,490.9 642.51,489.48 646.77,486.64 652.45,487.35 656.7,489.48 659.54,488.06 660.96,479.54 663.8,475.28 666.64,469.61 670.9,466.77 666.64,461.09 663.8,454" fill="#3a4a77" stroke="#3a4a77" stroke-width="0.4" stroke-linejoin="round"/>
<polyline points="218,238.2 251,237.5 251,225 260,219.5 260,197.5 287,197.5 287,187" fill="none" stroke="#fff" stroke-width="1.3" stroke-linejoin="round" stroke-linecap="round" />
<polyline points="287,187 315.5,204.25 358.75,235 372.5,245.5 376.77,247.74 382.45,250.58 385.28,257.67" fill="none" stroke="#fff" stroke-width="1.3" stroke-linejoin="round" stroke-linecap="round" />
<polyline points="315.5,204.25 306.75,206.25 308.5,230 313.5,281.8 313.5,288.2 281.54,288.19 280.83,286.77 268.77,292.45 264.51,288.19 260.96,290.32 258.12,295.99" fill="none" stroke="#fff" stroke-width="1.3" stroke-linejoin="round" stroke-linecap="round" />
<polyline points="220.52,278.96 237.55,278.96 242.51,280.38 247.48,284.64 253.16,291.74 258.12,295.99 259.54,303.8 263.09,309.48 265.22,315.15 265.22,318.7" fill="none" stroke="#fff" stroke-width="1.3" stroke-linejoin="round" stroke-linecap="round" />
<polyline points="220.52,315.15 226.19,314.87 245.35,315.15 265.22,318.7" fill="none" stroke="#fff" stroke-width="1.3" stroke-linejoin="round" stroke-linecap="round" />
<polyline points="265.22,317.74 268.77,320.58 274.45,318.45 280.12,315.33 284.38,316.32 287.22,323.42 290.06,329.09 294.31,334.77" fill="none" stroke="#fff" stroke-width="1.3" stroke-linejoin="round" stroke-linecap="round" />
<polyline points="294.31,334.77 297.15,333.35 302.83,334.06 305.67,331.93 311.34,333.35 313.47,334.06" fill="none" stroke="#fff" stroke-width="1.3" stroke-linejoin="round" stroke-linecap="round" />
<polyline points="313.47,334.06 314.18,328.38 315.6,322.71 317.02,320.83 320.57,317.14" fill="none" stroke="#fff" stroke-width="1.3" stroke-linejoin="round" stroke-linecap="round" />
<polyline points="320,317.99 322.84,313.73 329.93,307.35 334.19,306.64 338.45,300.96 342.71,299.54 350.51,293.16 354.77,292.45 361.16,294.57 368.25,291.31 376.77,291.03 386.7,289.61 389.54,288.19 392.38,283.93 393.52,275.41 393.09,257.67" fill="none" stroke="#fff" stroke-width="1.3" stroke-linejoin="round" stroke-linecap="round" />
<polyline points="385.28,257.67 393.09,257.67 405.15,254.84 412.25,249.87 422.18,241.35 439.21,230" fill="none" stroke="#fff" stroke-width="1.3" stroke-linejoin="round" stroke-linecap="round" />
<polyline points="231.87,327.67 238.26,324.84 245.35,322.71 246.06,318.45 245.35,314.9" fill="none" stroke="#fff" stroke-width="1.3" stroke-linejoin="round" stroke-linecap="round" />
<polyline points="252.45,344.71 256,339.74 261.67,337.61 266.64,339.03 270.19,344 270.9,350.38 270.19,353.93 268.06,358.19 264.51,363.16" fill="none" stroke="#fff" stroke-width="1.3" stroke-linejoin="round" stroke-linecap="round" />
<polyline points="270.9,350.38 273.03,351.09 276.57,351.09 280.12,352.51 281.54,356.77 282.96,361.03 285.8,362.45 289.35,359.61" fill="none" stroke="#fff" stroke-width="1.3" stroke-linejoin="round" stroke-linecap="round" />
<polyline points="294.31,334.77 292.19,338.32 292.9,344 295.02,349.67 293.6,352.51 290.77,353.22 291.48,356.77 289.35,359.61 290.06,363.86 289.35,369.54 291.48,372.38 296.44,375.22 297.15,386.57" fill="none" stroke="#fff" stroke-width="1.3" stroke-linejoin="round" stroke-linecap="round" />
<polyline points="313.47,334.06 317.02,337.61 321.28,340.45 325.54,339.74 331.21,339.03 334.76,339.03 336.89,344 336.18,353.93 333.34,362.45 332.63,366.7 335.47,376.64 336.89,380.19" fill="none" stroke="#fff" stroke-width="1.3" stroke-linejoin="round" stroke-linecap="round" />
<polyline points="334.9,329.09 356.9,328.38 358.32,329.09 364,329.09 365.41,329.09" fill="none" stroke="#fff" stroke-width="1.3" stroke-linejoin="round" stroke-linecap="round" />
<polyline points="333.48,336.02 334.19,329.34" fill="none" stroke="#fff" stroke-width="1.3" stroke-linejoin="round" stroke-linecap="round" />
<polyline points="358.32,329.09 361.16,336.9 361.87,342.58 362.58,348.25 362.58,356.77 363.29,363.86 366.12,370.25" fill="none" stroke="#fff" stroke-width="1.3" stroke-linejoin="round" stroke-linecap="round" />
<polyline points="365.41,329.09 365.41,334.06 368.25,336.9 368.96,344 369.67,351.09 370.38,356.77 371.09,362.45 371.8,369.83" fill="none" stroke="#fff" stroke-width="1.3" stroke-linejoin="round" stroke-linecap="round" />
<polyline points="365.41,329.09 368.25,326.26 374.64,325.55 376.77,326.26 379.61,317.74" fill="none" stroke="#fff" stroke-width="1.3" stroke-linejoin="round" stroke-linecap="round" />
<polyline points="379.61,317.74 382.45,317.74 388.12,323.42 388.83,332.64 385.28,339.74 382.45,344 381.03,346.83 381.03,356.77 381.74,368.83" fill="none" stroke="#fff" stroke-width="1.3" stroke-linejoin="round" stroke-linecap="round" />
<polyline points="388.12,322.71 388.83,314.19 390.96,308.52 393.8,304.97 402.31,303.55 410.83,305.68 416.51,310.64 422.18,309.22 429.28,310.64 437.79,312.06 443.47,308.52 438.45,312.71 445.55,308.45 455.48,307.74 462.58,308.45 468.96,305.61" fill="none" stroke="#fff" stroke-width="1.3" stroke-linejoin="round" stroke-linecap="round" />
<polyline points="468.96,305.61 474.64,309.87 478.19,314.13 478.19,321.22 476.77,324.06 472.51,326.9 469.67,331.16 466.83,338.25 462.58,345.35 459.74,351.03 456.9,356.7 454.06,363.8 451.22,368.06 446.97,363.8 444.13,363.09 439.87,365.22 434.19,370.9 431.35,375.15 430.64,382.25 427.1,385.8" fill="none" stroke="#fff" stroke-width="1.3" stroke-linejoin="round" stroke-linecap="round" />
<polyline points="361.16,294.57 362.58,300.96 368.25,309.48 376.77,315.15 379.61,317.99" fill="none" stroke="#fff" stroke-width="1.3" stroke-linejoin="round" stroke-linecap="round" />
<polyline points="564.19,149.19 564.19,232.22" fill="none" stroke="#fff" stroke-width="1.3" stroke-linejoin="round" stroke-linecap="round" />
<polyline points="564.9,232.22 661.41,232.22" fill="none" stroke="#fff" stroke-width="1.3" stroke-linejoin="round" stroke-linecap="round" />
<polyline points="564.25,249.67 555.02,249.67 555.02,285.86 549.34,287.28 547.22,288.7 546.51,293.67 542.96,297.93 543.67,301.47 540.83,306.02 548.45,288.52 545.61,295.61 541.35,299.87 542.06,306.97 538.52,311.22 542.77,315.48 544.19,321.16 547.03,326.83" fill="none" stroke="#fff" stroke-width="1.3" stroke-linejoin="round" stroke-linecap="round" />
<polyline points="481.22,224.13 490.45,219.87 555.02,253.93" fill="none" stroke="#fff" stroke-width="1.3" stroke-linejoin="round" stroke-linecap="round" />
<polyline points="450,222.71 457.1,219.87 467.03,221.29 475.55,226.26 481.22,224.13 484.06,236.9 486.9,242.58 490.45,246.83 488.32,251.09 486.19,276.64 482.64,281.6 476.97,287.99 471.29,295.09 469.16,299.34 470.38,295.68 468.96,299.93 469.67,304.19 468.96,305.61" fill="none" stroke="#fff" stroke-width="1.3" stroke-linejoin="round" stroke-linecap="round" />
<polyline points="478.19,314.13 481.03,318.38 482.45,326.9 483.86,332.58 486.7,336.12 485.28,337.54 473.93,338.96 476.77,343.93 482.45,349.61 485.28,353.86 486.7,358.83" fill="none" stroke="#fff" stroke-width="1.3" stroke-linejoin="round" stroke-linecap="round" />
<polyline points="486.7,358.83 493.8,357.41 499.48,354.57 507.99,353.16 513.67,351.03 516.51,346.77 522.18,344.64 530.7,338.96 536.38,332.58 542.05,328.32 546.31,327.61 538.52,329.67 544.19,328.96 547.74,327.54" fill="none" stroke="#fff" stroke-width="1.3" stroke-linejoin="round" stroke-linecap="round" />
<polyline points="486.7,358.83 482.45,362.38 479.61,368.06 477.48,372.31 479.61,381.22 482.45,389.74 486.7,396.83 490.25,403.22 490.53,408.19 479.61,406.06 466.83,405.35 452.64,404.64 439.87,404.64" fill="none" stroke="#fff" stroke-width="1.3" stroke-linejoin="round" stroke-linecap="round" />
<polyline points="547.74,327.54 551.29,333.93 553.42,339.61 552,345.28 556.97,349.54 560.51,353.8 565.48,359.48 569.74,365.15 574,370.83 579.67,375.8 580.38,377.93 576.83,379.34 569.74,377.93 565.48,379.34 555.55,381.47 547.03,382.18 544.19,386.02 540.63,385.09 533.54,385.09 527.86,383.67 522.18,380.83 516.51,380.83 512.25,386.51 510.83,391.16 509.41,392.86 502.31,392.15 495.22,388.6 495.22,394 491.67,406.77" fill="none" stroke="#fff" stroke-width="1.3" stroke-linejoin="round" stroke-linecap="round" />
<polyline points="674,268.42 666.9,273.38 661.93,275.51 660.51,281.9 659.09,291.83 657.67,298.93 655.55,306.03 654.84,313.12 649.87,317.38 647.03,323.06 644.9,330.15 640.64,332.99 639.22,338.67 639.28,342.45 637.86,348.12 640.7,350.96 638.45,349.87 630.64,353.42 629.93,356.26 635.61,358.38 641.29,362.64 644.84,368.32 646.97,374 650.51,379.67 653.35,384.64" fill="none" stroke="#fff" stroke-width="1.3" stroke-linejoin="round" stroke-linecap="round" />
<polyline points="657.67,298.93 662.64,298.22 668.32,299.64 669.74,295.38 672.58,297.51 679.67,297.51 686.77,299.64 692.45,303.19 696.7,307.45 700.96,311.7 704.51,315.25 706.64,317.38 702.38,320.22 701.67,325.19 703.8,328.73 710.9,328.73" fill="none" stroke="#fff" stroke-width="1.3" stroke-linejoin="round" stroke-linecap="round" />
<polyline points="706.64,317.38 711.6,315.25" fill="none" stroke="#fff" stroke-width="1.3" stroke-linejoin="round" stroke-linecap="round" />
<polyline points="710.9,328.73 709.48,331.57 713.73,337.25 719.41,342.93 726.51,347.18 732.18,350.73 737.79,352.71 746.31,355.55 750,356.26" fill="none" stroke="#fff" stroke-width="1.3" stroke-linejoin="round" stroke-linecap="round" />
<polyline points="639.16,386.77 653.35,384.64 661.16,385.35 665.41,388.19 673.93,393.86 682.45,395.28 688.12,391.03 693.09,388.19 696.64,391.74 700.9,391.03" fill="none" stroke="#fff" stroke-width="1.3" stroke-linejoin="round" stroke-linecap="round" />
<polyline points="700.9,391.03 694.51,399.54 694.51,409.48 695.22,436.02 695.02,434.13 699.28,438.38" fill="none" stroke="#fff" stroke-width="1.3" stroke-linejoin="round" stroke-linecap="round" />
<polyline points="613,393.5 620,393.86 627.1,392.45 637.03,391.03 639.16,386.77" fill="none" stroke="#fff" stroke-width="1.3" stroke-linejoin="round" stroke-linecap="round" />
<polyline points="602.06,436.26 609.87,434.41 636.83,434.41 679.41,464.64" fill="none" stroke="#fff" stroke-width="1.3" stroke-linejoin="round" stroke-linecap="round" />
<polyline points="636.12,428.45 636.83,434.41" fill="none" stroke="#fff" stroke-width="1.3" stroke-linejoin="round" stroke-linecap="round" />
<polyline points="639.16,386.77 639.87,392.45 642.71,398.12 645.55,409.48 644.13,417.99 639.87,422.25 637.03,427.93 636.12,428.45" fill="none" stroke="#fff" stroke-width="1.3" stroke-linejoin="round" stroke-linecap="round" />
<polyline points="609.87,434.41 610.58,444.06 609.16,449.74 611.29,452.58 607.03,456.83 602.77,462.51 599.93,466.77 600.64,475.28 604.19,483.8 608.45,490.9 612.71,499.41 621.22,503.67 631.16,507.93 636.83,510.76 643.75,525 660,527.5 675,522.5 688.75,517.5" fill="none" stroke="#fff" stroke-width="1.3" stroke-linejoin="round" stroke-linecap="round" />
<polyline points="602.06,436.26 602.06,431.29 604.19,422.77 607.03,415.68 611.5,411 613.2,401 613,393.5" fill="none" stroke="#fff" stroke-width="1.3" stroke-linejoin="round" stroke-linecap="round" />
<polyline points="439.9,404.6 440.3,399 439,393 436.5,388.5 430,385 417.5,386 407.5,385 402.5,377.5 397.5,370 386,367.5 375,368.75 365,372 355,375 341,381 335,378.75 317.5,379 305,380 296,385 287.5,381 280,375 275,371 267.5,366 260,360 253.75,352.5 250,342.5 242.5,335 237.5,327.5 225,326 223.75,320 221,312.5 221,303.75 217.5,296 222.5,285 223.75,278.75 225,265 225,250 218.75,237.5" fill="none" stroke="#f4f1f1" stroke-width="1.4" stroke-linejoin="round" stroke-linecap="round" />
<polyline points="564,145 565,149 572.5,149 585,151 600,155 607.5,150 617.5,149 626,154 626.25,161 632.5,180 641,200 649,215 650,224 660,231 662.5,245 662.5,250 666,257.5 672.5,265 675,268.75 680,282.5 687.5,295 700,305 707.5,312.5 713.75,317.5 711,325 713.75,327.5 720,332.5 727.5,335 745,331.25 762.5,326.25 775,321.75 778.75,322.5 777.5,335 772.5,350 765,365 755,380 745,395 730,408.75 715,420 705,432.5 701,437 700,438.75 691,445 685,457.5 680,465 677.5,477.5 682.5,487.5 681,502.5 688.75,517.5" fill="none" stroke="#f4f1f1" stroke-width="1.4" stroke-linejoin="round" stroke-linecap="round" />
<polyline points="556.97,349.54 560.51,342.45 564.06,336.06 568.32,333.93 572.58,335.35 574,341.03 579.67,341.74 585.35,340.32 586.77,337.48 593.86,337.48 596.7,339.61 600.96,338.9 603.8,336.06 608.06,337.48 615.15,339.61 617.99,335.35 620.83,331.09 623.67,326.83 622.96,321.16 626.51,318.32 631.47,318.32 631.47,325.41 635.02,331.09 637.86,336.77 639.28,342.45" fill="none" stroke="#fff" stroke-width="1.2" stroke-linejoin="round" stroke-linecap="round" stroke-dasharray="1.6 1.8"/>
<polyline points="750,358.38 744.89,364.06 737.79,372.58 732.12,378.96 727.86,382.51 722.18,381.8 716.51,383.22 710.83,386.77 705.15,389.61 700.9,391.03" fill="none" stroke="#fff" stroke-width="1.2" stroke-linejoin="round" stroke-linecap="round" stroke-dasharray="1.6 1.8"/>
<polyline points="635.15,234.34 640.83,230.09 646.51,225.12 650.76,223.7 659.28,230.09" fill="none" stroke="#fff" stroke-width="1.2" stroke-linejoin="round" stroke-linecap="round" stroke-dasharray="1.6 1.8"/>
</g>
<polygon points="643.75,177.5 641.25,170 640,147.5 646.25,135 653.75,121.25 652.5,112.5 660,101.25 675,101.25 697.5,99.25 707.5,97.5 710,98 720,99.25 725,100 726.25,103.75 733.75,110 736.25,116.25 730,122.5 736.25,133.75 750,145 753.75,160 753.75,165 749.5,170 757,175 762,185 769.5,192.5 773.25,200 777,207.5 778.25,196.25 782,197.5 783.25,207.5 780.75,211.25 787,213.75 797,212.5 807,208.75 817,200 820.75,193.75 822.5,200 822,207.5 832,215 842,222.5 849.5,227.5 847,235 840.75,243.75 837,247.5 832,255 827,262 829,260 817.5,265 807.5,273.75 793.75,277.5 786.25,282.5 787.5,287.5 775,292.5 760,298.75 752.5,302.5 740,303.75 730,310 720,313.75 715,308.75 712.5,295 710,287.5 711.25,277.5 705,270 697.5,260 690.5,251.25 686.25,250 682,245 677.5,227.5 667.5,215 660,200 650,185" fill="#cbc8c9" stroke="#8f8c8d" stroke-width="0.6" stroke-linejoin="round"/>
<polygon points="721.25,80 725.75,76.25 733.25,81.25 748.25,78.75 754.5,77.5 755.75,85 769.5,96.25 784.5,103.25 802,100 812,93.75 823.25,90 830.75,89.5 842,95 852,101.25 862,104.5 863.25,112.5 857,127.5 860.75,137.5 859.5,147.5 867,151.25 867,157.5 862,165 869.5,175 875.75,178.75 879.5,187.5 872,193.75 865.75,203.75 849.5,201.25 834.5,198.75 828.25,192.5 823.25,187.5 817,188.75 809.5,191.25 799.5,188.75 787,181.25 779.5,175 773.25,166.25 767,160 760.75,157.5 754.5,160 750.75,147.5 737,132.5 730.75,122.5 735.75,115 733.25,110 724.5,100 722,90" fill="#cbc8c9" stroke="#8f8c8d" stroke-width="0.6" stroke-linejoin="round"/>
<polygon points="763.75,531.25 770,542.5 773.75,557.5 772.5,565 767.5,570 767.5,573 762.5,588 757.5,605.5 752.5,623 747.5,638 741.25,646.75 731.25,650.5 722.5,646.75 717.5,638 715,623 716.25,613 722.5,603 722.5,590.5 720,580.5 721.25,573 723.75,570 732.5,566.25 742.5,562.5 750,552.5 755,542.5 760,533.75" fill="#cbc8c9" stroke="#8f8c8d" stroke-width="0.6" stroke-linejoin="round"/>
<polygon points="742,444.25 748.25,445 759.5,455 769.5,463.75 777,473.75 777.5,482.5 772,481.25 762,471.25 753.25,461.25 747,451.25" fill="#c3a4b1"/>
<polygon points="777,483.75 787,486.25 797,485.5 809.5,490 808.25,492.5 797,491.25 784.5,488.75 777.5,486.25" fill="#c3a4b1"/>
<polygon points="789.5,457.5 797,458.75 808.25,455 812,448.25 818.25,448.25 818.25,457.5 820.75,458.75 815.75,466.25 813.25,475 809.5,476.25 803.25,473.75 793.25,472.5 789.5,465" fill="#c3a4b1"/>
<polygon points="828.25,458.75 843.25,457.5 842,461.25 830.75,462.5 828.25,466.25 837,465.75 833.25,470 837,480 834.5,481.25 829.5,472.5 827,481.25 824.5,481.25 822.75,471.25 825.75,462.5" fill="#c3a4b1"/>
<polygon points="852,456.25 855.75,457.5 854.5,465 852.5,461.25" fill="#c3a4b1"/>
<polygon points="863.25,465.75 872,464.5 875.75,470 884.5,468.75 898.25,471.25 899,493 894.5,491.25 887,491.25 890.75,487.5 887,480 877,476.25 872,475 868.25,471.25 869.5,468.75" fill="#c3a4b1"/>
<polygon points="847,473.25 850.75,473.25 850.75,475 847,475" fill="#c3a4b1"/>
<polygon points="854.5,472.5 862,473 862,474.5 854.5,474" fill="#c3a4b1"/>
<polygon points="815.75,492 823.25,491.5 823.25,493.5 815.75,493.75" fill="#c3a4b1"/>
<polygon points="827,491.5 835.75,491.25 835.75,493 827,493" fill="#c3a4b1"/>
<polygon points="823.75,495.75 828.25,495.75 828.25,497.75 823.75,497.25" fill="#c3a4b1"/>
<polygon points="838.25,495.75 842.5,493.75 844,495 840,498.25" fill="#c3a4b1"/>
<ellipse cx="430" cy="394" rx="1.6" ry="2.2" fill="#cbc8c9" stroke="#8f8c8d" stroke-width="0.5"/>
<ellipse cx="716" cy="528" rx="1.2" ry="1.6" fill="#cbc8c9" stroke="#8f8c8d" stroke-width="0.5"/>
<ellipse cx="721" cy="532" rx="1.6" ry="1" fill="#cbc8c9" stroke="#8f8c8d" stroke-width="0.5"/>
<ellipse cx="724.5" cy="532.5" rx="1.2" ry="1" fill="#cbc8c9" stroke="#8f8c8d" stroke-width="0.5"/>
<ellipse cx="421" cy="414" rx="1" ry="1.2" fill="#cbc8c9" stroke="#8f8c8d" stroke-width="0.5"/>
<ellipse cx="684" cy="452" rx="1" ry="1.6" fill="#cbc8c9" stroke="#8f8c8d" stroke-width="0.5"/>
<ellipse cx="686.5" cy="466" rx="1.2" ry="2.2" fill="#cbc8c9" stroke="#8f8c8d" stroke-width="0.5"/>
<polyline points="643.75,150 647.5,135 653.75,137.5 662.5,141.25 675,136.25 677.5,133" fill="none" stroke="#8f8c8d" stroke-width="0.8" stroke-linejoin="round" stroke-linecap="round" />
<polyline points="662.5,141.25 663.75,147.5 680,143.75" fill="none" stroke="#8f8c8d" stroke-width="0.8" stroke-linejoin="round" stroke-linecap="round" />
<polyline points="663.75,147.5 670,156.25 667.5,161.25 656.25,168.75 646.25,168.75" fill="none" stroke="#8f8c8d" stroke-width="0.8" stroke-linejoin="round" stroke-linecap="round" />
<polyline points="646.25,135 651.25,131.25 653.75,121.25" fill="none" stroke="#8f8c8d" stroke-width="0.8" stroke-linejoin="round" stroke-linecap="round" />
<polyline points="643.75,150 645,162.5 643.75,175" fill="none" stroke="#8f8c8d" stroke-width="0.8" stroke-linejoin="round" stroke-linecap="round" />
<polyline points="741.25,169.5 747.5,175 753.75,173.75" fill="none" stroke="#8f8c8d" stroke-width="0.8" stroke-linejoin="round" stroke-linecap="round" />
<polyline points="784.5,215 787,223.75 812,227.5 815.75,217.5 817,210" fill="none" stroke="#8f8c8d" stroke-width="0.8" stroke-linejoin="round" stroke-linecap="round" />
<polyline points="812,227.5 814.5,235 809.5,250 787,258.75" fill="none" stroke="#8f8c8d" stroke-width="0.8" stroke-linejoin="round" stroke-linecap="round" />
<polygon points="626.25,153.75 640,151.75 643.75,168.75 638.75,180 632.5,175 626.25,161.25" fill="#de671c" stroke="#fff" stroke-width="0.6" stroke-linejoin="round"/>
<polygon points="711.25,277.5 715,273 730,273.75 743.75,275 747.5,273.75 755,268.75 767.5,263.75 786.25,260 793.75,277.5 786.25,282.5 787.5,287.5 775,292.5 760,298.75 752.5,302.5 740,303.75 730,310 720,313.75 715,308.75 712.5,295 710,287.5" fill="#3a4a77" stroke="#fff" stroke-width="0.8" stroke-linejoin="round"/>
<polygon points="798.75,314.75 803.75,314.5 805,316 800,317" fill="#3a4a77"/>
<polygon points="710,98 700,106.25 697.5,121.25 677.5,133 680,142.5 693.75,146.25 710,156.25 725,166.25 741.25,169.5 747.5,162.5 753.75,160 750,145 736.25,133.75 730,122.5 736.25,116.25 733.75,110 726.25,103.75 722.5,99.25" fill="#5f792d" stroke="#fff" stroke-width="0.8" stroke-linejoin="round"/>
<polygon points="715,110 720,102.5 722.5,99.25 726.25,103.75 733.75,110 736.25,116.25 731.25,121.25 727.5,115 726.25,111.25 720,112.5 716.25,113.75" fill="#de671c"/>
<polygon points="715.5,113.75 720,112 726.25,111.25 727.5,116.25 722.5,120.5 717.5,118" fill="#3a4a77"/>
</svg>
<h1><span class="k1">여성 할례 </span><span class="la">(Female Genital Mutilation)</span><span class="k2"> 비율</span></h1>
<div class="bar" style="left:22px;top:90.00px;width:103.5px;background:#9a1a1f"></div>
<div class="pct in" style="top:88.50px">98%</div>
<div class="lab" style="top:88.50px">소말리아</div>
<div class="bar" style="left:24px;top:112.66px;width:101.5px;background:#9a1a1f"></div>
<div class="pct in" style="top:111.16px">96%</div>
<div class="lab" style="top:111.16px">기니</div>
<div class="sep" style="top:107.06px;width:84px"></div>
<div class="bar" style="left:27px;top:135.32px;width:98.5px;background:#9a1a1f"></div>
<div class="pct in" style="top:133.82px">93%</div>
<div class="lab" style="top:133.82px">지부티</div>
<div class="sep" style="top:129.72px;width:84px"></div>
<div class="bar" style="left:29px;top:157.98px;width:96.5px;background:#9a1a1f"></div>
<div class="pct in" style="top:156.48px">91%</div>
<div class="lab" style="top:156.48px">이집트</div>
<div class="sep" style="top:152.38px;width:84px"></div>
<div class="bar" style="left:31.25px;top:180.64px;width:94.25px;background:#9a1a1f"></div>
<div class="pct in" style="top:179.14px">89%</div>
<div class="lab" style="top:179.14px">에리트레아</div>
<div class="sep" style="top:175.04px;width:84px"></div>
<div class="bar" style="left:30.75px;top:203.30px;width:94.75px;background:#9a1a1f"></div>
<div class="pct in" style="top:201.80px">89%</div>
<div class="lab" style="top:201.80px">말리</div>
<div class="sep" style="top:197.70px;width:84px"></div>
<div class="bar" style="left:32.25px;top:225.96px;width:93.25px;background:#9a1a1f"></div>
<div class="pct in" style="top:224.46px">88%</div>
<div class="lab" style="top:224.46px">시에라리온</div>
<div class="sep" style="top:220.36px;width:84px"></div>
<div class="bar" style="left:32.25px;top:248.62px;width:93.25px;background:#9a1a1f"></div>
<div class="pct in" style="top:247.12px">88%</div>
<div class="lab" style="top:247.12px">수단</div>
<div class="sep" style="top:243.02px;width:84px"></div>
<div class="bar" style="left:45px;top:271.28px;width:80.5px;background:#dc651b"></div>
<div class="pct in" style="top:269.78px">76%</div>
<div class="lab" style="top:269.78px">감비아</div>
<div class="sep" style="top:265.68px;width:84px"></div>
<div class="bar" style="left:45px;top:293.94px;width:80.5px;background:#dc651b"></div>
<div class="pct in" style="top:292.44px">76%</div>
<div class="lab" style="top:292.44px">부르키나 파소</div>
<div class="sep" style="top:288.34px;width:84px"></div>
<div class="bar" style="left:47px;top:316.60px;width:78.5px;background:#dc651b"></div>
<div class="pct in" style="top:315.10px">74%</div>
<div class="lab" style="top:315.10px">에티오피아</div>
<div class="sep" style="top:311.00px;width:84px"></div>
<div class="bar" style="left:52.5px;top:339.26px;width:73px;background:#dc651b"></div>
<div class="pct in" style="top:337.76px">69%</div>
<div class="lab" style="top:337.76px">모리타니아</div>
<div class="sep" style="top:333.66px;width:84px"></div>
<div class="bar" style="left:55.5px;top:361.92px;width:70px;background:#dc651b"></div>
<div class="pct in" style="top:360.42px">66%</div>
<div class="lab" style="top:360.42px">라이베리아</div>
<div class="sep" style="top:356.32px;width:84px"></div>
<div class="bar" style="left:72.5px;top:384.58px;width:53px;background:#d3a20f"></div>
<div class="pct in" style="top:383.08px">50%</div>
<div class="lab" style="top:383.08px">기니비사우</div>
<div class="sep" style="top:378.98px;width:144px"></div>
<div class="bar" style="left:78.75px;top:407.24px;width:46.75px;background:#d3a20f"></div>
<div class="pct in" style="top:405.74px">44%</div>
<div class="lab" style="top:405.74px">차드</div>
<div class="sep" style="top:401.64px;width:144px"></div>
<div class="bar" style="left:85px;top:429.90px;width:40.5px;background:#d3a20f"></div>
<div class="pct in" style="top:428.40px">38%</div>
<div class="lab" style="top:428.40px">코트디부아르</div>
<div class="sep" style="top:424.30px;width:144px"></div>
<div class="bar" style="left:97px;top:452.56px;width:28.5px;background:#d3a20f"></div>
<div class="pct in" style="top:451.06px">27%</div>
<div class="lab" style="top:451.06px">케냐</div>
<div class="sep" style="top:446.96px;width:144px"></div>
<div class="bar" style="left:97px;top:475.22px;width:28.5px;background:#d3a20f"></div>
<div class="pct in" style="top:473.72px">27%</div>
<div class="lab" style="top:473.72px">나이지리아</div>
<div class="sep" style="top:469.62px;width:144px"></div>
<div class="bar" style="left:97.75px;top:497.88px;width:27.75px;background:#d3a20f"></div>
<div class="pct in" style="top:496.38px">26%</div>
<div class="lab" style="top:496.38px">세네갈</div>
<div class="sep" style="top:492.28px;width:144px"></div>
<div class="bar" style="left:100px;top:520.54px;width:25.5px;background:#36406d"></div>
<div class="pct out" style="top:519.04px;width:92.5px">24%</div>
<div class="lab" style="top:519.04px">중아프리카 공화국</div>
<div class="sep" style="top:514.94px;width:144px"></div>
<div class="bar" style="left:101px;top:543.20px;width:24.5px;background:#36406d"></div>
<div class="pct out" style="top:541.70px;width:93.5px">23%</div>
<div class="lab" style="top:541.70px">예멘</div>
<div class="sep" style="top:537.60px;width:144px"></div>
<div class="bar" style="left:109.5px;top:565.86px;width:16px;background:#36406d"></div>
<div class="pct out" style="top:564.36px;width:102px">15%</div>
<div class="lab" style="top:564.36px">탄자니아 연합공화국</div>
<div class="sep" style="top:560.26px;width:144px"></div>
<div class="bar" style="left:111.5px;top:588.52px;width:14px;background:#36406d"></div>
<div class="pct out" style="top:587.02px;width:104px">13%</div>
<div class="lab" style="top:587.02px">베냉</div>
<div class="sep" style="top:582.92px;width:144px"></div>
<div class="bar" style="left:117px;top:611.18px;width:8.5px;background:#6b7a2f"></div>
<div class="pct out" style="top:609.68px;width:109.5px">8%</div>
<div class="lab" style="top:609.68px">이라크</div>
<div class="sep" style="top:605.58px;width:144px"></div>
<div class="bar" style="left:121.25px;top:633.84px;width:4.25px;background:#6b7a2f"></div>
<div class="pct out" style="top:632.34px;width:113.75px">4%</div>
<div class="lab" style="top:632.34px">가나</div>
<div class="sep" style="top:628.24px;width:144px"></div>
<div class="bar" style="left:121.25px;top:656.50px;width:4.25px;background:#6b7a2f"></div>
<div class="pct out" style="top:655.00px;width:113.75px">4%</div>
<div class="lab" style="top:655.00px">토고</div>
<div class="sep" style="top:650.90px;width:144px"></div>
<div class="bar" style="left:123.25px;top:679.16px;width:2.25px;background:#6b7a2f"></div>
<div class="pct out" style="top:677.66px;width:113.75px">2%</div>
<div class="lab" style="top:677.66px">니제르</div>
<div class="sep" style="top:673.56px;width:144px"></div>
<div class="bar" style="left:124.25px;top:701.82px;width:1.25px;background:#6b7a2f"></div>
<div class="pct out" style="top:700.32px;width:113.75px">1%</div>
<div class="lab" style="top:700.32px">카메룬</div>
<div class="sep" style="top:696.22px;width:144px"></div>
<div class="bar" style="left:124.25px;top:724.48px;width:1.25px;background:#6b7a2f"></div>
<div class="pct out" style="top:722.98px;width:113.75px">1%</div>
<div class="lab" style="top:722.98px">우간다</div>
<div class="sep" style="top:718.88px;width:144px"></div>
<div class="legend">
<div class="sw" style="top:6.00px;background:#b71c23"></div><div class="lt" style="top:3.80px">Above 80%</div>
<div class="sw" style="top:19.93px;background:#de671c"></div><div class="lt" style="top:17.73px">51% - 80%</div>
<div class="sw" style="top:33.86px;background:#d4a20e"></div><div class="lt" style="top:31.66px">26% - 50%</div>
<div class="sw" style="top:47.79px;background:#3a4a77"></div><div class="lt" style="top:45.59px">10% - 25%</div>
<div class="sw" style="top:61.72px;background:#5f792d"></div><div class="lt" style="top:59.52px">Less than 10%</div>
<div class="sw" style="top:75.50px;background:#cfcccc;outline:0.6px solid #b9b5b5;outline-offset:-0.6px"></div><div class="lk" style="top:75.00px">여성할례 비진행 지역</div>
</div>
<div class="unicef">unicef</div>
<svg style="position:absolute;left:874.8px;top:673px" width="28" height="28" viewBox="0 0 28 28"><circle cx="14" cy="13.6" r="11.4" fill="none" stroke="#5fa9f5" stroke-width="2.7" stroke-dasharray="2.6 0.5" opacity=".7"/><circle cx="14" cy="13.2" r="8.9" fill="#cfe6f9" opacity=".75"/><path d="M6.4 9.4 Q14 5.2 21.6 9.4 M14 4.4 V12 M9.6 5.6 Q11.6 9 11.4 12 M18.4 5.6 Q16.4 9 16.6 12 M5.4 13.2 H22.6" fill="none" stroke="#5fa9f5" stroke-width="0.55"/><circle cx="9.9" cy="8.9" r="2.6" fill="#1f8bf5"/><path d="M8.2 11 Q5.8 12.6 6.4 15.6 Q7 18.2 9.4 18.6 L12.8 17.6 L12.6 16.2 L10.6 16 Q10 13.6 11.2 11.6 Z" fill="#1f8bf5"/><circle cx="17.7" cy="12.6" r="3.9" fill="#1f8bf5"/><path d="M14.2 13.4 Q13.2 15 14.6 16.4 L14.4 18.6 Q12.2 19.4 10.2 20.4 Q13.6 22.4 17.6 20.8 L18 17.4 L20.6 15.6 L16 11.4 Z" fill="#1f8bf5"/><path d="M11.2 25.4 L15.4 22.6 M16.8 25.4 L12.6 22.6" fill="none" stroke="#5fa9f5" stroke-width="0.8"/></svg>
<div class="src" style="top:703.4px">FGMC 2016 Brochure</div>
<div class="src" style="top:714.3px">FGM July 2013 Report</div>
</div></body></html>
